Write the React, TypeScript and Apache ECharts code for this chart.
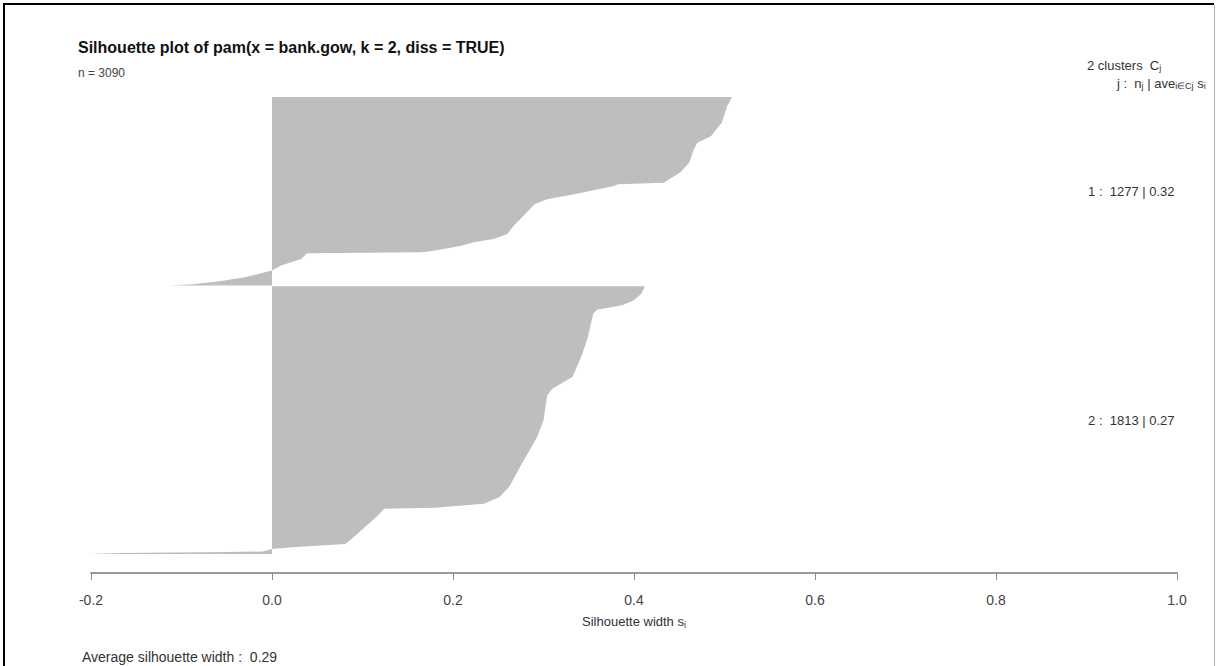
import React, { useEffect, useRef } from "react";
import * as echarts from "echarts";

// ---- data ----
const clusterIds = [1, 2];
const clusterSizes = [1277, 1813];
const clusterAvgWidths = [0.32, 0.27];
const totalN = 3090;
const averageWidth = 0.29;
const clusterGap = 5;

// silhouette profile of cluster 1: rank within cluster (sorted, largest first) -> width
const cluster1Ranks = [0, 30, 60, 175, 266, 310, 355, 445, 512, 557, 580, 591, 603, 659, 692, 726, 805, 872, 928, 962, 984, 1007, 1041, 1051, 1058, 1097, 1142, 1175, 1220, 1250, 1270, 1277];
const cluster1Widths = [0.508, 0.506, 0.503, 0.497, 0.485, 0.47, 0.466, 0.461, 0.451, 0.439, 0.433, 0.382, 0.378, 0.334, 0.304, 0.29, 0.278, 0.267, 0.26, 0.245, 0.223, 0.209, 0.179, 0.165, 0.039, 0.032, 0.01, 0, -0.03, -0.06, -0.09, -0.114];

// silhouette profile of cluster 2
const cluster2Ranks = [0, 50, 95, 129, 158, 185, 344, 456, 614, 693, 739, 908, 1021, 1201, 1360, 1428, 1473, 1500, 1507, 1564, 1700, 1745, 1768, 1779, 1796, 1800, 1806, 1813];
const cluster2Widths = [0.412, 0.408, 0.4, 0.387, 0.359, 0.355, 0.349, 0.343, 0.332, 0.31, 0.304, 0.3, 0.293, 0.276, 0.262, 0.251, 0.234, 0.18, 0.124, 0.115, 0.09, 0.081, 0.022, 0, -0.01, -0.05, -0.17, -0.203];

const xMin = -0.2;
const xMax = 1.0;
const xInterval = 0.2;

const titleText = "Silhouette plot of pam(x = bank.gow, k = 2, diss = TRUE)";

const FONT = '"Liberation Sans", Arial, sans-serif';

export default function App() {
  const ref = useRef<HTMLDivElement | null>(null);

  useEffect(() => {
    if (!ref.current) return;
    const chart = echarts.init(ref.current, null, { renderer: "svg" });

    const ranksList = [cluster1Ranks, cluster2Ranks];
    const widthsList = [cluster1Widths, cluster2Widths];
    const offsets = [0, clusterSizes[0] + clusterGap];
    const yMax = clusterSizes[0] + clusterGap + clusterSizes[1];
    const labelX = 0.9017;

    const subRich = {
      sub: { fontSize: 9, fontFamily: FONT, color: "#333", verticalAlign: "bottom", lineHeight: 9 },
    };

    const option: any = {
      animation: false,
      backgroundColor: "#ffffff",
      grid: { left: 91, top: 97, width: 1086, height: 457, containLabel: false },
      xAxis: {
        type: "value",
        min: xMin,
        max: xMax,
        interval: xInterval,
        position: "bottom",
        offset: 19,
        splitLine: { show: false },
        axisLine: { show: true, onZero: false, lineStyle: { color: "#9a9a9a", width: 2 } },
        axisTick: { show: true, inside: false, length: 7, lineStyle: { color: "#8a8a8a", width: 1 } },
        axisLabel: {
          margin: 20,
          fontSize: 14,
          fontFamily: FONT,
          color: "#444",
          formatter: (v: number) => v.toFixed(1),
        },
        name: "Silhouette width s{sub|i}",
        nameLocation: "middle",
        nameGap: 41,
        nameTextStyle: { fontSize: 13, fontFamily: FONT, color: "#333", lineHeight: 15, rich: subRich },
      },
      yAxis: { type: "value", min: 0, max: yMax, inverse: true, show: false },
      series: [
        {
          type: "custom",
          coordinateSystem: "cartesian2d",
          clip: false,
          data: clusterIds.map((id, i) => [0, offsets[i]]),
          renderItem: (params: any, api: any) => {
            const c = params.dataIndex;
            const ranks = ranksList[c];
            const widths = widthsList[c];
            const off = offsets[c];
            const pts: number[][] = [api.coord([0, off])];
            for (let i = 0; i < ranks.length; i++) {
              pts.push(api.coord([widths[i], off + ranks[i]]));
            }
            pts.push(api.coord([0, off + clusterSizes[c]]));
            const mid = api.coord([labelX, off + clusterSizes[c] / 2]);
            return {
              type: "group",
              children: [
                { type: "polygon", shape: { points: pts }, style: { fill: "#bebebe", stroke: "none" } },
                {
                  type: "text",
                  x: mid[0],
                  y: mid[1],
                  style: {
                    text: `${clusterIds[c]} :  ${clusterSizes[c]} | ${clusterAvgWidths[c].toFixed(2)}`,
                    font: `13px ${FONT}`,
                    fill: "#333",
                    align: "left",
                    verticalAlign: "middle",
                  },
                },
              ],
            };
          },
        },
      ],
      graphic: [
        // frame
        { type: "line", shape: { x1: 3, y1: 4, x2: 1214, y2: 4 }, style: { stroke: "#000", lineWidth: 2 } },
        { type: "line", shape: { x1: 4, y1: 3, x2: 4, y2: 666 }, style: { stroke: "#000", lineWidth: 2 } },
        { type: "line", shape: { x1: 1214.5, y1: 5, x2: 1214.5, y2: 666 }, style: { stroke: "#b0b0b0", lineWidth: 1 } },
        {
          type: "text",
          x: 78,
          y: 47,
          style: { text: titleText, font: `bold 16px ${FONT}`, fill: "#111", verticalAlign: "middle" },
        },
        {
          type: "text",
          x: 78,
          y: 73,
          style: { text: `n = ${totalN}`, font: `12px ${FONT}`, fill: "#444", verticalAlign: "middle" },
        },
        {
          type: "text",
          x: 1087,
          y: 65,
          style: {
            text: `${clusterIds.length} clusters  C{sub|j}`,
            font: `13px ${FONT}`,
            fill: "#333",
            verticalAlign: "middle",
            lineHeight: 15,
            rich: subRich,
          },
        },
        {
          type: "text",
          x: 1117,
          y: 83,
          style: {
            text: "j :  n{sub|j} | ave{sub|i\u2208Cj} s{sub|i}",
            font: `13px ${FONT}`,
            fill: "#333",
            verticalAlign: "middle",
            lineHeight: 15,
            rich: subRich,
          },
        },
        {
          type: "text",
          x: 82,
          y: 657,
          style: {
            text: `Average silhouette width :  ${averageWidth.toFixed(2)}`,
            font: `14px ${FONT}`,
            fill: "#333",
            verticalAlign: "middle",
          },
        },
      ],
    };

    chart.setOption(option);
    return () => chart.dispose();
  }, []);

  return (
    <div
      ref={ref}
      style={{ position: "fixed", left: 0, top: 0, width: 1216, height: 666, background: "#fff" }}
    />
  );
}
